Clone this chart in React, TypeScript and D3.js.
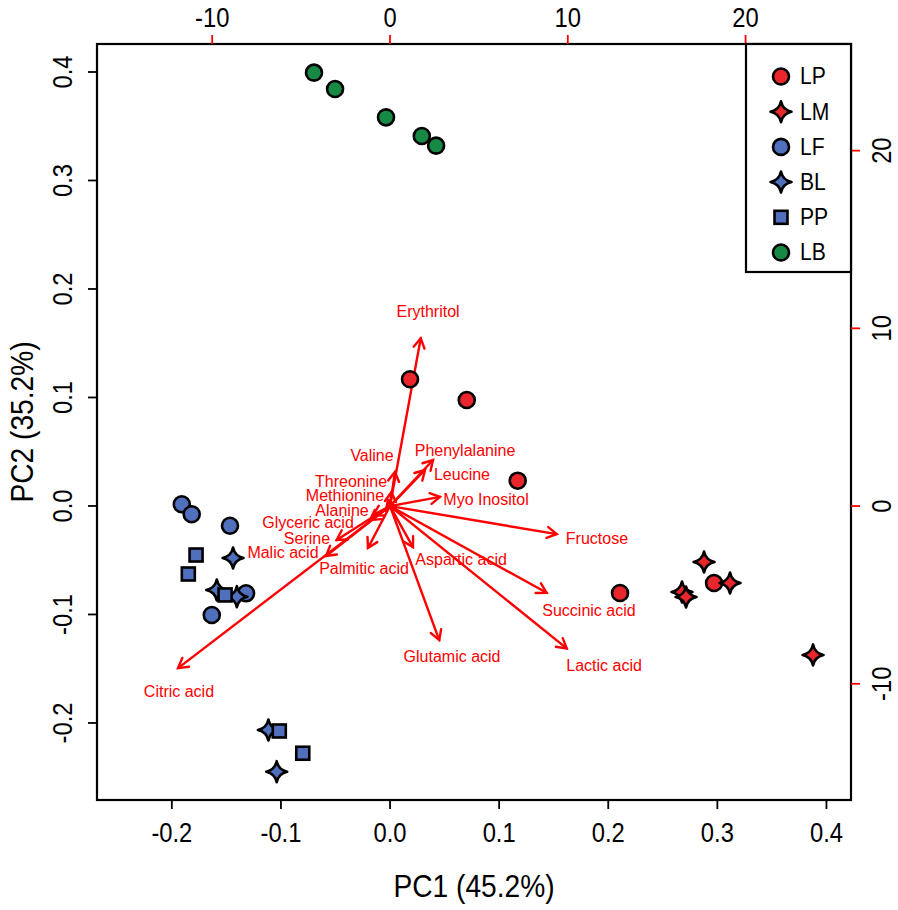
import React from "react";
import * as d3 from "d3";

// ---- Data ----
const groups = ["LP", "LM", "LF", "BL", "PP", "LB"];
const groupShape = ["circle", "star", "circle", "star", "square", "circle"];
const groupColor = ["#E8262B", "#E8262B", "#5070BE", "#5070BE", "#5070BE", "#168A44"];

const scoresLP = [[0.0183, 0.1168], [0.0703, 0.0977], [0.117, 0.0233], [0.2108, -0.0802], [0.297, -0.071]];
const scoresLM = [[0.2878, -0.0516], [0.2676, -0.0793], [0.2713, -0.0839], [0.3116, -0.071], [0.3877, -0.1373]];
const scoresLF = [[-0.1909, 0.0016], [-0.1818, -0.0076], [-0.1467, -0.0182], [-0.132, -0.0805], [-0.1634, -0.1005]];
const scoresBL = [[-0.1439, -0.0479], [-0.1588, -0.0774], [-0.1404, -0.0836], [-0.1115, -0.2065], [-0.1039, -0.2449]];
const scoresPP = [[-0.1778, -0.0452], [-0.1849, -0.0627], [-0.1512, -0.082], [-0.1015, -0.2074], [-0.08, -0.2279]];
const scoresLB = [[-0.0697, 0.3994], [-0.0504, 0.3843], [-0.0037, 0.3582], [0.0291, 0.341], [0.0422, 0.3321]];
const groupScores = [scoresLP, scoresLM, scoresLF, scoresBL, scoresPP, scoresLB];

const varNames = ["Erythritol", "Valine", "Threonine", "Methionine", "Phenylalanine", "Leucine", "Myo Inositol", "Fructose", "Alanine", "Glyceric acid", "Serine", "Malic acid", "Palmitic acid", "Aspartic acid", "Citric acid", "Glutamic acid", "Succinic acid", "Lactic acid"];
const loadX = [1.73, 0.28, 0.08, -0.11, 2.42, 1.97, 2.81, 9.38, -0.96, -1.12, -3.0, -3.6, -1.24, 1.29, -11.92, 2.77, 8.81, 9.94];
const loadY = [9.44, 1.93, 0.79, 0.34, 2.59, 2.03, 0.52, -1.58, -0.51, -0.79, -1.91, -2.81, -2.36, -2.31, -9.12, -7.54, -4.88, -8.01];
const labX = [2.14, -1.01, -2.19, -2.53, 4.22, 4.05, 5.4, 11.64, -2.7, -4.61, -4.67, -6.02, -1.46, 4.0, -11.87, 3.49, 11.19, 12.04];
const labY = [10.97, 2.85, 1.41, 0.62, 3.15, 1.8, 0.39, -1.8, -0.23, -0.9, -1.8, -2.64, -3.49, -2.98, -10.41, -8.44, -5.85, -8.97];

const bottomTicks = [-0.2, -0.1, 0.0, 0.1, 0.2, 0.3, 0.4];
const leftTicks = [-0.2, -0.1, 0.0, 0.1, 0.2, 0.3, 0.4];
const topTicks = [-10, 0, 10, 20];
const rightTicks = [-10, 0, 10, 20];

const xTitle = "PC1 (45.2%)";
const yTitle = "PC2 (35.2%)";

// ---- Layout ----
const W = 898, H = 910;
const L = 97, R = 851, T = 44, B = 800;

const x = d3.scaleLinear().domain([-0.2686, 0.4225]).range([L, R]);
const y = d3.scaleLinear().domain([-0.271, 0.4258]).range([B, T]);
const x2 = d3.scaleLinear().domain([-16.48, 25.93]).range([L, R]);
const y2 = d3.scaleLinear().domain([-16.54, 26.0]).range([B, T]);

const FONT = "'Liberation Sans', Arial, Helvetica, sans-serif";
const ARROW_RED = "#FF0000";
const SX = 0.88;

function starPath(r: number) {
  const c = r * 0.17;
  return `M0,${-r} Q${c},${-c} ${r},0 Q${c},${c} 0,${r} Q${-c},${c} ${-r},0 Q${-c},${-c} 0,${-r}Z`;
}

function CText({ x, y, rot = 0, size, anchor = "middle", children }: any) {
  return (
    <text
      transform={`translate(${x},${y}) rotate(${rot}) scale(${SX},1)`}
      fontSize={size}
      textAnchor={anchor}
      dominantBaseline="central"
      fill="#000"
    >
      {children}
    </text>
  );
}

function Marker({ shape, color, cx, cy }: { shape: string; color: string; cx: number; cy: number }) {
  const sw = 2.6;
  if (shape === "circle")
    return <circle cx={cx} cy={cy} r={8} fill={color} stroke="#000" strokeWidth={sw} />;
  if (shape === "square")
    return <rect x={cx - 6.5} y={cy - 6.5} width={13} height={13} fill={color} stroke="#000" strokeWidth={sw} />;
  return <path d={starPath(10.5)} transform={`translate(${cx},${cy})`} fill={color} stroke="#000" strokeWidth={sw} strokeLinejoin="round" />;
}

function Arrow({ x1, y1, x2p, y2p }: { x1: number; y1: number; x2p: number; y2p: number }) {
  const ang = Math.atan2(y2p - y1, x2p - x1);
  const len = 11;
  const a = Math.PI / 6;
  const p1 = [x2p - len * Math.cos(ang - a), y2p - len * Math.sin(ang - a)];
  const p2 = [x2p - len * Math.cos(ang + a), y2p - len * Math.sin(ang + a)];
  return (
    <g stroke={ARROW_RED} strokeWidth={2.4} fill="none" strokeLinecap="round">
      <line x1={x1} y1={y1} x2={x2p} y2={y2p} />
      <path d={`M${p1[0]},${p1[1]} L${x2p},${y2p} L${p2[0]},${p2[1]}`} strokeLinejoin="miter" />
    </g>
  );
}

export default function App() {
  const legX = 746, legY = T, legW = R - 746, legH = 272 - T;
  return (
    <svg width={W} height={H} style={{ position: "absolute", left: 0, top: 0, background: "#fff" }} fontFamily={FONT}>
      <rect x={0} y={0} width={W} height={H} fill="#fff" />
      {/* arrows */}
      {varNames.map((n, i) => (
        <Arrow key={n} x1={x2(0)} y1={y2(0)} x2p={x2(loadX[i])} y2p={y2(loadY[i])} />
      ))}
      {varNames.map((n, i) => (
        <text key={n} x={x2(labX[i])} y={y2(labY[i])} fill={ARROW_RED} fontSize={16} textAnchor="middle" dominantBaseline="central">
          {n}
        </text>
      ))}
      {/* points */}
      {groupScores.map((pts, gi) =>
        pts.map((p, j) => (
          <Marker key={`${gi}-${j}`} shape={groupShape[gi]} color={groupColor[gi]} cx={x(p[0])} cy={y(p[1])} />
        ))
      )}
      {/* box */}
      <rect x={L} y={T} width={R - L} height={B - T} fill="none" stroke="#000" strokeWidth={2.2} />
      {/* bottom axis */}
      {bottomTicks.map((t) => (
        <g key={`b${t}`}>
          <line x1={x(t)} x2={x(t)} y1={B} y2={B + 9} stroke="#000" strokeWidth={1.8} />
          <CText x={x(t)} y={B + 32} size={27}>{t.toFixed(1)}</CText>
        </g>
      ))}
      {/* left axis */}
      {leftTicks.map((t) => (
        <g key={`l${t}`}>
          <line x1={L - 9} x2={L} y1={y(t)} y2={y(t)} stroke="#000" strokeWidth={1.8} />
          <CText x={L - 35} y={y(t)} rot={-90} size={27}>{t.toFixed(1)}</CText>
        </g>
      ))}
      {/* top axis */}
      {topTicks.map((t) => (
        <g key={`t${t}`}>
          <line x1={x2(t)} x2={x2(t)} y1={T - 9} y2={T} stroke={ARROW_RED} strokeWidth={1.8} />
          <CText x={x2(t)} y={T - 27} size={27}>{t}</CText>
        </g>
      ))}
      {/* right axis */}
      {rightTicks.map((t) => (
        <g key={`r${t}`}>
          <line x1={R} x2={R + 9} y1={y2(t)} y2={y2(t)} stroke={ARROW_RED} strokeWidth={1.8} />
          <CText x={R + 30} y={y2(t)} rot={-90} size={27}>{t}</CText>
        </g>
      ))}
      {/* titles */}
      <CText x={(L + R) / 2} y={886} size={32}>{xTitle}</CText>
      <CText x={22} y={(T + B) / 2} rot={-90} size={32}>{yTitle}</CText>
      {/* legend */}
      <rect x={legX} y={legY} width={legW} height={legH} fill="#fff" stroke="#000" strokeWidth={2.2} />
      {groups.map((g, i) => {
        const cy = 76.5 + i * 35.2;
        return (
          <g key={g}>
            <Marker shape={groupShape[i]} color={groupColor[i]} cx={781} cy={cy} />
            <CText x={800} y={cy} size={24} anchor="start">{g}</CText>
          </g>
        );
      })}
    </svg>
  );
}
